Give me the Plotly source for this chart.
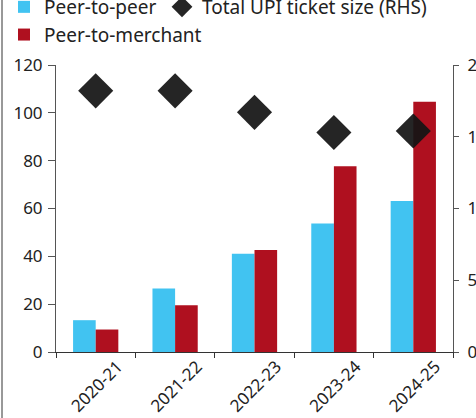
import plotly.graph_objects as go

years = ["2020-21", "2021-22", "2022-23", "2023-24", "2024-25"]
p2p = [13.3, 26.6, 41.1, 53.7, 63.1]
p2m = [9.4, 19.5, 42.6, 77.7, 104.6]
ticket = [182, 182, 167, 153, 154]

W, H = 476, 418
L, R, T, B = 56, 23, 65, 66
FONT = "Noto Sans"

fig = go.Figure()
fig.add_trace(go.Bar(x=years, y=p2p, name="Peer-to-peer", legend="legend",
                     marker=dict(color="#41C3F1", line=dict(width=0))))
fig.add_trace(go.Scatter(x=years, y=ticket, name="Total UPI ticket size (RHS)",
                         mode="markers", yaxis="y2", legend="legend2",
                         marker=dict(symbol="diamond", size=27,
                                     color="rgba(20,20,20,0.93)", line=dict(width=0))))
fig.add_trace(go.Bar(x=years, y=p2m, name="Peer-to-merchant", legend="legend",
                     marker=dict(color="#AF101F", line=dict(width=0))))

pw = W - L - R
ph = H - T - B
leg_y = 1 + (T + 12) / ph

fig.update_layout(
    width=W, height=H,
    margin=dict(l=L, r=R, t=T, b=B, pad=0, autoexpand=False),
    paper_bgcolor="white", plot_bgcolor="white",
    font=dict(family=FONT, size=17, color="#222"),
    barmode="group", bargap=0.43, bargroupgap=0,
    xaxis=dict(type="category", showgrid=False, showline=True, linecolor="#333",
               linewidth=1, ticks="outside", tickson="boundaries", ticklen=5,
               tickcolor="#333", tickangle=-45, tickfont=dict(size=17),
               ticklabelshift=22, ticklabelstandoff=-3, automargin=False),
    yaxis=dict(range=[0, 120], dtick=20, showgrid=False, showline=True,
               linecolor="#555", ticks="outside", ticklen=7, tickcolor="#555",
               zeroline=False, tickfont=dict(size=17), ticklabelstandoff=2,
               automargin=False),
    yaxis2=dict(range=[0, 200], dtick=50, overlaying="y", side="right",
                showgrid=False, showline=True, linecolor="#555", ticks="outside",
                ticklen=5, tickcolor="#555", zeroline=False, tickfont=dict(size=17),
                ticklabelstandoff=5, automargin=False),
    legend=dict(orientation="v", x=(4 - L) / pw, xanchor="left",
                y=leg_y, yanchor="top",
                font=dict(size=19, color="#222"), bgcolor="rgba(0,0,0,0)",
                traceorder="normal"),
    legend2=dict(orientation="v", x=(162 - L) / pw, xanchor="left",
                 y=leg_y, yanchor="top",
                 font=dict(size=19, color="#222"), bgcolor="rgba(0,0,0,0)"),
    shapes=[dict(type="line", xref="paper", yref="paper",
                 x0=(2 - L) / pw, x1=(2 - L) / pw,
                 y0=-(B + 2) / ph, y1=1 + (T + 2) / ph,
                 line=dict(color="#333", width=1))],
)

fig.write_html("out.html", config={"displayModeBar": False},
               post_script="document.body.style.margin='0';document.body.style.overflow='hidden';")
